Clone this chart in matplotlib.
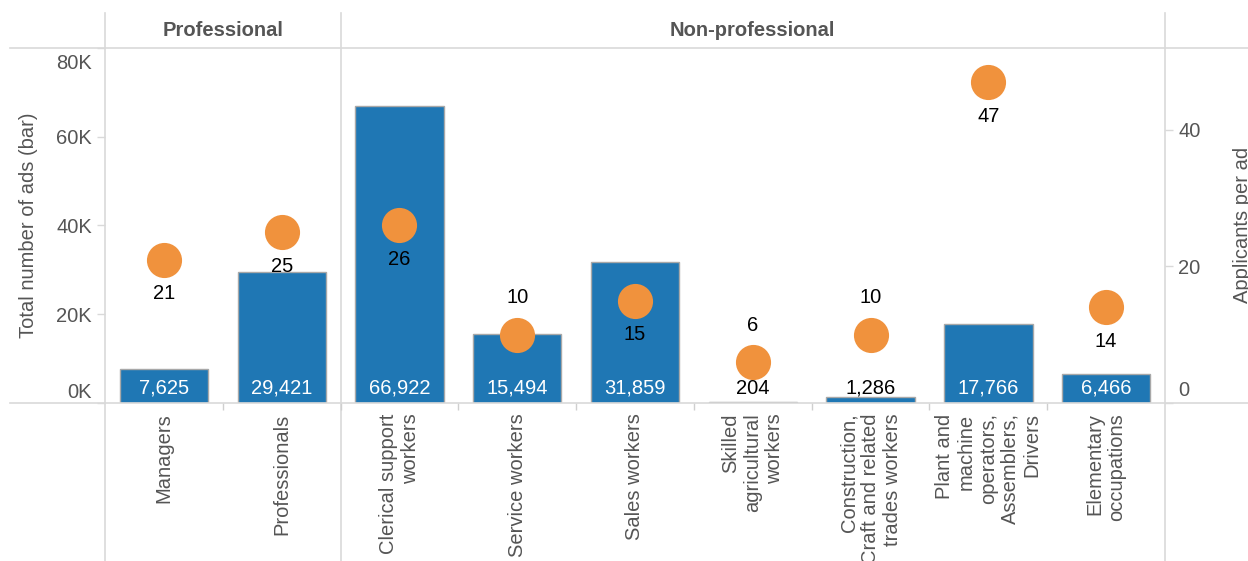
import matplotlib

matplotlib.use("Agg")
import matplotlib.pyplot as plt
import matplotlib.transforms as mtransforms
from matplotlib.lines import Line2D

# 数据
categories = [
    "Managers",
    "Professionals",
    "Clerical support\nworkers",
    "Service workers",
    "Sales workers",
    "Skilled\nagricultural\nworkers",
    "Construction,\nCraft and related\ntrades workers",
    "Plant and\nmachine\noperators,\nAssemblers,\nDrivers",
    "Elementary\noccupations",
]
group_names = ["Professional", "Non-professional"]
group_sizes = [2, 7]
total_ads = [7625, 29421, 66922, 15494, 31859, 204, 1286, 17766, 6466]
applicants_per_ad = [21, 25, 26, 10, 15, 6, 10, 47, 14]
ads_ticks = [0, 20000, 40000, 60000, 80000]
applicant_ticks = [0, 20, 40]

# 样式
W, H = 1248, 561
BAR_COLOR = "#1f77b4"
DOT_COLOR = "#f0923d"
LINE_COLOR = "#d9d9d9"
TEXT_COLOR = "#555555"
FS = 14.5

plt.rcParams["font.family"] = ["Liberation Sans", "DejaVu Sans"]

fig = plt.figure(figsize=(W / 100, H / 100), dpi=100)

# 绘图区域 (像素坐标换算)
left, right, top, bottom = 105, 1165, 48, 403
ax = fig.add_axes([left / W, 1 - bottom / H, (right - left) / W, (bottom - top) / H])
ax2 = ax.twinx()
for a in (ax, ax2):
    for s in a.spines.values():
        s.set_visible(False)
    a.patch.set_visible(False)

n = len(categories)
x = list(range(n))
ax.set_xlim(-0.5, n - 0.5)
ax.set_ylim(0, 80000)
ax2.set_ylim(0, 52)

# 柱状图: 广告总数
ax.bar(x, total_ads, width=0.75, color=BAR_COLOR, edgecolor="#a8a8a8",
       linewidth=1.0, zorder=2)
px_per_ad = (bottom - top) / 80000
for i, v in enumerate(total_ads):
    inside = v * px_per_ad > 22
    ax.annotate(f"{v:,}", xy=(i, 0), xytext=(0, 15), textcoords="offset pixels",
                ha="center", va="center", fontsize=14.5,
                color="white" if inside else "black", zorder=3)

# 散点: 每条广告的申请人数
ax2.scatter(x, applicants_per_ad, s=640, color=DOT_COLOR, linewidths=0,
            zorder=4, clip_on=False)
label_above = {3, 5, 6}
for i, v in enumerate(applicants_per_ad):
    dy = 37 if i in label_above else -34
    ax2.annotate(f"{v}", xy=(i, v), xytext=(0, dy), textcoords="offset pixels",
                 ha="center", va="center", fontsize=14.5, color="black", zorder=5)

# 左右 y 轴
ax.set_yticks(ads_ticks, [f"{t // 1000}K" for t in ads_ticks])
ax2.set_yticks(applicant_ticks, [str(t) for t in applicant_ticks])
for a in (ax, ax2):
    a.tick_params(axis="y", length=6, width=1, color=LINE_COLOR, pad=3.5,
                  labelsize=FS, labelcolor=TEXT_COLOR)

# 两端刻度标签向内收
def shift(label, dy_px):
    label.set_transform(label.get_transform()
                        + mtransforms.ScaledTranslation(0, dy_px / 100, fig.dpi_scale_trans))

shift(ax.yaxis.get_major_ticks()[0].label1, 13)
shift(ax.yaxis.get_major_ticks()[-1].label1, -14)
shift(ax2.yaxis.get_major_ticks()[0].label2, 14)

fig.text(29 / W, 1 - 225 / H, "Total number of ads (bar)", rotation=90,
         ha="center", va="center", fontsize=FS, color=TEXT_COLOR)
fig.text(1243 / W, 1 - 225 / H, "Applicants per ad", rotation=90,
         ha="center", va="center", fontsize=FS, color=TEXT_COLOR)

# x 轴类别标签
ax.set_xticks(x)
ax.set_xticklabels(categories, rotation=90, ha="center", va="top",
                   multialignment="right", fontsize=FS, color=TEXT_COLOR)
ax.tick_params(axis="x", length=0, pad=7.5)
ax.set_xticks([i + 0.5 for i in range(n - 1)], minor=True)
ax.tick_params(axis="x", which="minor", length=5, width=1, color="#cfcfcf")

# 网格线与分组分隔
fig_lines = [
    ((10 / W, 1.0), (1 - top / H, 1 - top / H)),
    ((10 / W, 1.0), (1 - bottom / H, 1 - bottom / H)),
]
for xs, ys in fig_lines:
    fig.add_artist(Line2D(xs, ys, color=LINE_COLOR, lw=1.2, transform=fig.transFigure))

blend = mtransforms.blended_transform_factory(ax.transData, ax.transAxes)
y_lo = (bottom - H) / (bottom - top)
y_hi = (bottom - 13) / (bottom - top)
edges = [-0.5]
for size in group_sizes:
    edges.append(edges[-1] + size)
for e in edges:
    ax.add_line(Line2D([e, e], [y_lo, y_hi], color=LINE_COLOR, lw=1.2,
                       transform=blend, clip_on=False, zorder=1))

# 分组标题
header_y = (bottom - 31) / (bottom - top)
for name, a, b in zip(group_names, edges[:-1], edges[1:]):
    ax.text((a + b) / 2, header_y, name, transform=blend, ha="center",
            va="center", fontsize=FS, fontweight="bold", color=TEXT_COLOR)

fig.savefig("out.png", dpi=100)
